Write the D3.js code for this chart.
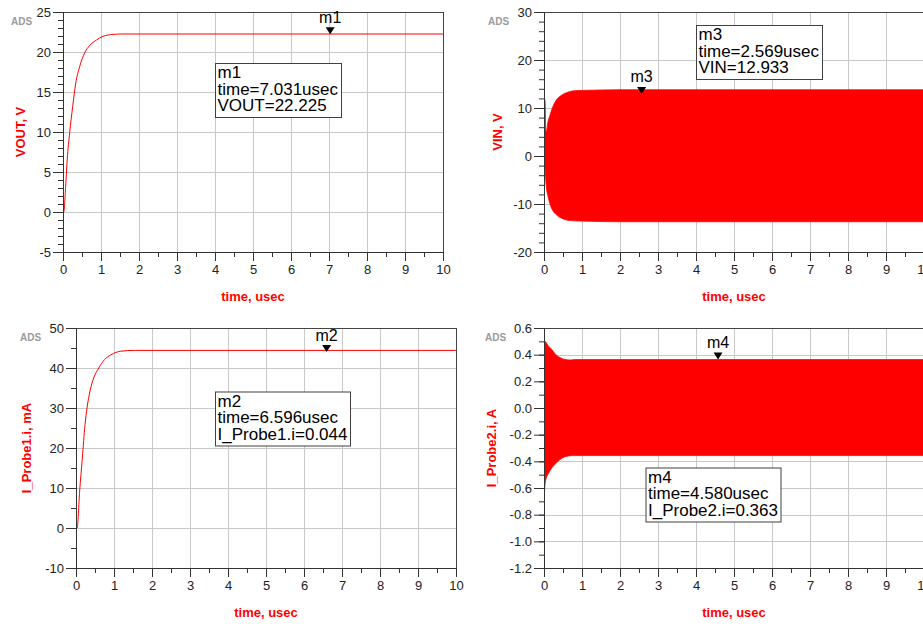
<!DOCTYPE html>
<html>
<head>
<meta charset="utf-8">
<script src="https://cdn.jsdelivr.net/npm/d3@7"></script>
<style>
  body { margin: 0; background: #fff; overflow: hidden; }
  svg { display: block; font-family: "Liberation Sans", Arial, sans-serif; }
  .tick text { fill: #222; font-size: 13px; font-family: "Liberation Sans", Arial, sans-serif; }
  .axis-label { fill: #f00; font-size: 13px; font-weight: bold; }
  .ads { fill: #9a9a9a; font-size: 10px; font-weight: bold; }
  .marker-name { font-size: 16px; fill: #000; }
  .marker-text { font-size: 17px; fill: #000; }
</style>
</head>
<body>
<div id="chart"></div>
<script>
const timeTicks = [0, 1, 2, 3, 4, 5, 6, 7, 8, 9, 10];

// VOUT, V (top left)
const voutTime  = [0, 0.02, 0.07, 0.11, 0.175, 0.255, 0.335, 0.44, 0.57, 0.7, 0.88, 1.05, 1.32, 1.54, 2, 10];
const voutValue = [0, 0, 3.2, 6.5, 9.9, 13.2, 16.1, 18.2, 19.9, 20.8, 21.5, 21.96, 22.2, 22.25, 22.25, 22.25];
const voutTicks = [-5, 0, 5, 10, 15, 20, 25];

// VIN, V (top right) - envelope of the fast oscillation
const vinTime  = [0, 0.005, 0.03, 0.045, 0.06, 0.105, 0.15, 0.235, 0.32, 0.45, 0.63, 0.8, 1.2, 2, 10];
const vinUpper = [28.7, 12.1, 11.5, 5.3, 5.1, 7.2, 8.3, 10.3, 11.6, 12.6, 13.3, 13.6, 13.7, 13.8, 13.8];
const vinLower = [0, -1.5, -2.8, -4.8, -6.3, -8.4, -9.8, -11.4, -12.2, -12.9, -13.4, -13.5, -13.6, -13.7, -13.7];
const vinTicks = [-20, -10, 0, 10, 20, 30];

// I_Probe1.i, mA (bottom left)
const probe1Time  = [0, 0.03, 0.096, 0.167, 0.237, 0.29, 0.368, 0.465, 0.6, 0.75, 0.92, 1.18, 1.54, 2, 10];
const probe1Value = [0, 0, 9.2, 17.5, 25.8, 30, 34.2, 37.5, 40, 42.1, 43.3, 44.2, 44.4, 44.4, 44.4];
const probe1Ticks = [-10, 0, 10, 20, 30, 40, 50];

// I_Probe2.i, A (bottom right) - envelope
const probe2Time  = [0, 0.008, 0.02, 0.06, 0.1, 0.15, 0.2, 0.28, 0.35, 0.41, 0.5, 0.6, 0.7, 0.8, 10];
const probe2Upper = [0.45, 0.48, 0.5, 0.49, 0.47, 0.455, 0.44, 0.41, 0.39, 0.38, 0.368, 0.362, 0.36, 0.363, 0.363];
const probe2Lower = [-1.03, -0.7, -0.6, -0.525, -0.5, -0.475, -0.45, -0.425, -0.405, -0.39, -0.372, -0.362, -0.358, -0.357, -0.357];
const probe2Ticks = [-1.2, -1.0, -0.8, -0.6, -0.4, -0.2, 0.0, 0.2, 0.4, 0.6];

// markers
const markerNames   = ["m1", "m3", "m2", "m4"];
const markerSignals = ["VOUT", "VIN", "I_Probe1.i", "I_Probe2.i"];
const markerTimes   = [7.031, 2.569, 6.596, 4.580];
const markerValues  = [22.225, 12.933, 0.044, 0.363];

const width = 923;
const height = 624;
const plotW = 380;
const plotH = 240;

const svg = d3.select("#chart")
  .append("svg")
  .attr("width", width)
  .attr("height", height);

function drawPanel(p) {
  const x = d3.scaleLinear().domain([0, 10]).range([p.left, p.left + plotW]);
  const y = d3.scaleLinear().domain([p.ticks[0], p.ticks[p.ticks.length - 1]])
    .range([p.top + plotH, p.top]);
  const g = svg.append("g");

  // grid
  g.selectAll(".vgrid").data(timeTicks).join("line")
    .attr("x1", d => Math.round(x(d)) + 0.5)
    .attr("x2", d => Math.round(x(d)) + 0.5)
    .attr("y1", p.top)
    .attr("y2", p.top + plotH)
    .attr("stroke", "#c8c8c8");
  g.selectAll(".hgrid").data(p.ticks).join("line")
    .attr("x1", p.left)
    .attr("x2", p.left + plotW)
    .attr("y1", d => Math.round(y(d)) + 0.5)
    .attr("y2", d => Math.round(y(d)) + 0.5)
    .attr("stroke", "#c8c8c8");

  const clipId = "clip" + p.id;
  svg.append("clipPath").attr("id", clipId)
    .append("rect")
    .attr("x", p.left).attr("y", p.top - 1)
    .attr("width", plotW).attr("height", plotH + 1);
  const data = g.append("g").attr("clip-path", `url(#${clipId})`);

  // border top / right
  g.append("line")
    .attr("x1", p.left).attr("x2", p.left + plotW)
    .attr("y1", p.top + 0.5).attr("y2", p.top + 0.5)
    .attr("stroke", "#444");
  g.append("line")
    .attr("x1", p.left + plotW + 0.5).attr("x2", p.left + plotW + 0.5)
    .attr("y1", p.top).attr("y2", p.top + plotH)
    .attr("stroke", "#444");

  // minor ticks
  const yMinor = d3.range(p.ticks[0], p.ticks[p.ticks.length - 1] + p.minor / 2, p.minor);
  g.append("g")
    .attr("transform", `translate(${p.left}, 0)`)
    .call(d3.axisLeft(y).tickValues(yMinor).tickSize(5).tickFormat(""))
    .call(a => a.select(".domain").remove())
    .call(a => a.selectAll("line").attr("stroke", "#333"));
  g.append("g")
    .attr("transform", `translate(0, ${p.top + plotH})`)
    .call(d3.axisBottom(x).tickValues(d3.range(0.5, 10, 1)).tickSize(5).tickFormat(""))
    .call(a => a.select(".domain").remove())
    .call(a => a.selectAll("line").attr("stroke", "#333"));

  // major axes
  g.append("g")
    .attr("transform", `translate(${p.left}, 0)`)
    .call(d3.axisLeft(y).tickValues(p.ticks).tickSize(10).tickSizeOuter(0).tickPadding(2)
      .tickFormat(p.format))
    .call(a => a.selectAll("line, path").attr("stroke", "#333"));
  g.append("g")
    .attr("transform", `translate(0, ${p.top + plotH})`)
    .call(d3.axisBottom(x).tickValues(timeTicks).tickSize(9).tickSizeOuter(0).tickPadding(4)
      .tickFormat(d => String(d)))
    .call(a => a.selectAll("line, path").attr("stroke", "#333"));

  // labels
  g.append("text")
    .attr("class", "axis-label")
    .attr("x", p.left + plotW / 2)
    .attr("y", p.top + plotH + 49)
    .attr("text-anchor", "middle")
    .text("time, usec");

  g.append("text")
    .attr("class", "axis-label")
    .attr("transform", `translate(${p.left - p.labelOffset}, ${p.top + plotH / 2}) rotate(-90)`)
    .attr("text-anchor", "middle")
    .text(p.label);

  g.append("text")
    .attr("class", "ads")
    .attr("x", p.adsX)
    .attr("y", p.top + 12.5)
    .text("ADS");

  return { x: x, y: y, data: data, g: g };
}

function drawMarker(panel, i, scale, boxDx, boxDy, p) {
  const mx = panel.x(markerTimes[i]);
  const my = panel.y(markerValues[i] * scale);

  panel.g.append("path")
    .attr("d", `M${mx - 4.5},${my - 7}L${mx + 4.5},${my - 7}L${mx},${my}Z`)
    .attr("fill", "#000");
  panel.g.append("text")
    .attr("class", "marker-name")
    .attr("x", mx)
    .attr("y", my - 11.5)
    .attr("text-anchor", "middle")
    .text(markerNames[i]);

  const bx = p.left + boxDx;
  const by = p.top + boxDy;
  const box = panel.g.append("g");
  const rect = box.append("rect")
    .attr("x", bx + 0.5)
    .attr("y", by + 0.5)
    .attr("height", 54)
    .attr("fill", "#fff")
    .attr("stroke", "#404040");

  const lines = [
    markerNames[i],
    "time=" + markerTimes[i].toFixed(3) + "usec",
    markerSignals[i] + "=" + markerValues[i].toFixed(3)
  ];
  let maxLen = 0;
  lines.forEach(function(t, k) {
    const txt = box.append("text")
      .attr("class", "marker-text")
      .attr("x", bx + 2.5)
      .attr("y", by + 15 + k * 16.7)
      .text(t);
    maxLen = Math.max(maxLen, txt.node().getComputedTextLength());
  });
  rect.attr("width", Math.round(maxLen + 5));
}

// plain hyphen minus, as in the original plot
const fmtInt = d => String(d);
const fmtDec = d => d.toFixed(1);

const p1 = { id: 1, left: 63, top: 12, ticks: voutTicks, minor: 1, format: fmtInt,
  label: "VOUT, V", labelOffset: 38, adsX: 11 };
const p2 = { id: 2, left: 544, top: 12, ticks: vinTicks, minor: 2, format: fmtInt,
  label: "VIN, V", labelOffset: 42, adsX: 488 };
const p3 = { id: 3, left: 76, top: 328, ticks: probe1Ticks, minor: 5, format: fmtInt,
  label: "I_Probe1.i, mA", labelOffset: 45.5, adsX: 20 };
const p4 = { id: 4, left: 544, top: 328, ticks: probe2Ticks, minor: 0.1, format: fmtDec,
  label: "I_Probe2.i, A", labelOffset: 48.5, adsX: 485 };

const panel1 = drawPanel(p1);
const panel2 = drawPanel(p2);
const panel3 = drawPanel(p3);
const panel4 = drawPanel(p4);

// VOUT curve
const line1 = d3.line()
  .x((d, i) => panel1.x(voutTime[i]))
  .y(d => panel1.y(d))
  .curve(d3.curveMonotoneX);
panel1.data.append("path")
  .datum(voutValue)
  .attr("fill", "none")
  .attr("stroke", "#ff0000")
  .attr("stroke-width", 1)
  .attr("d", line1);

// VIN envelope
const area2 = d3.area()
  .x((d, i) => panel2.x(vinTime[i]))
  .y0((d, i) => panel2.y(vinLower[i]))
  .y1(d => panel2.y(d))
  .curve(d3.curveMonotoneX);
panel2.data.append("path")
  .datum(vinUpper)
  .attr("fill", "#ff0000")
  .attr("stroke", "#ff0000")
  .attr("stroke-width", 0.8)
  .attr("d", area2);

// I_Probe1 curve
const line3 = d3.line()
  .x((d, i) => panel3.x(probe1Time[i]))
  .y(d => panel3.y(d))
  .curve(d3.curveMonotoneX);
panel3.data.append("path")
  .datum(probe1Value)
  .attr("fill", "none")
  .attr("stroke", "#ff0000")
  .attr("stroke-width", 1)
  .attr("d", line3);

// I_Probe2 envelope
const area4 = d3.area()
  .x((d, i) => panel4.x(probe2Time[i]))
  .y0((d, i) => panel4.y(probe2Lower[i]))
  .y1(d => panel4.y(d))
  .curve(d3.curveMonotoneX);
panel4.data.append("path")
  .datum(probe2Upper)
  .attr("fill", "#ff0000")
  .attr("stroke", "#ff0000")
  .attr("stroke-width", 0.8)
  .attr("d", area4);

// markers
drawMarker(panel1, 0, 1, 152, 51, p1);
drawMarker(panel2, 1, 1, 152, 13, p2);
drawMarker(panel3, 2, 1000, 139, 63.5, p3);
drawMarker(panel4, 3, 1, 101.5, 139.5, p4);
</script>
</body>
</html>
